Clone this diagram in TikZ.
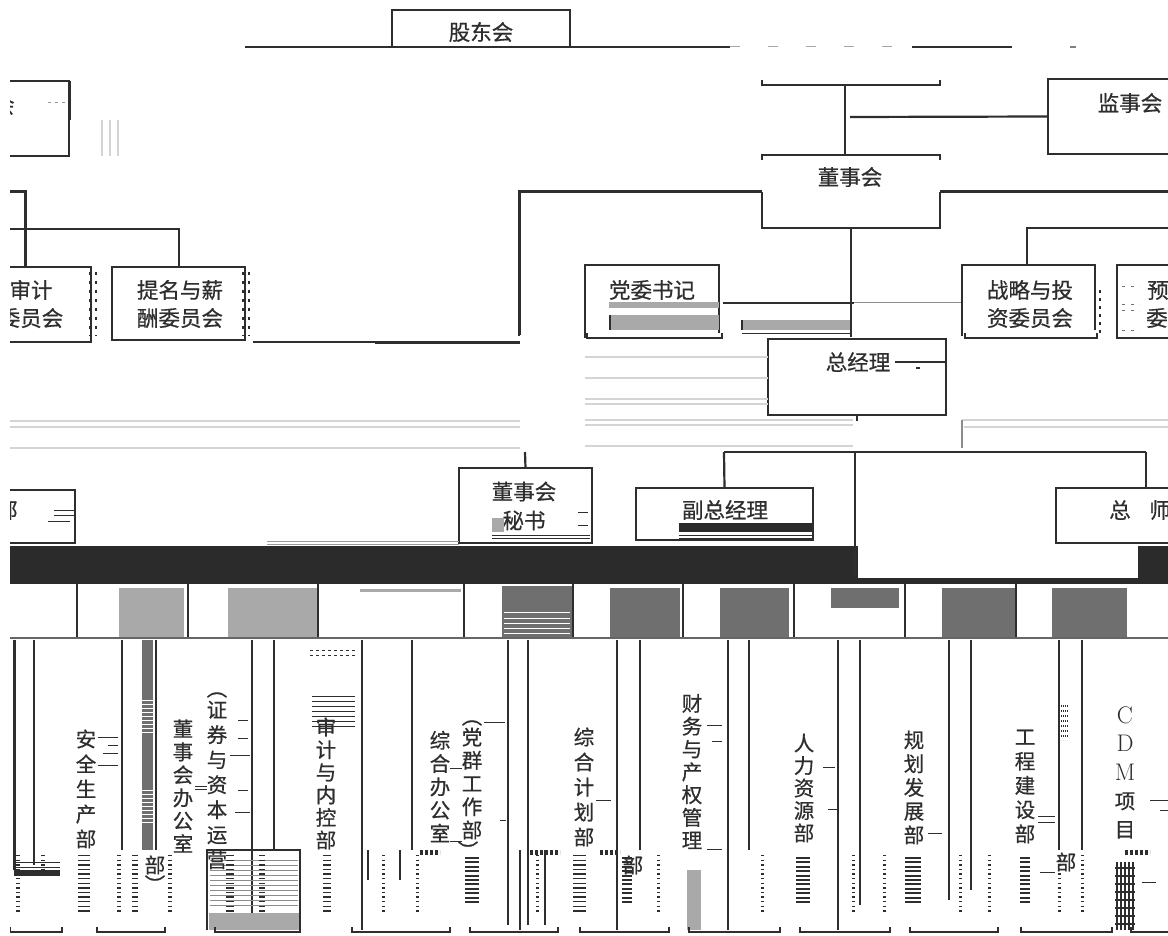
\documentclass[tikz,border=0pt]{standalone}
\usepackage{fontspec}
\newfontfamily\cjk[FakeBold=0.6]{Noto Sans CJK SC}
\definecolor{ink}{HTML}{2E2E2E}
\definecolor{lg}{HTML}{A9A9A9}
\definecolor{dg}{HTML}{6F6F6F}
\definecolor{barc}{HTML}{2B2B2B}
\definecolor{faint}{HTML}{D4D4D4}
\begin{document}
\begin{tikzpicture}[x=1pt,y=-1pt,
  ln/.style={draw=ink, line width=1.5pt},
  thk/.style={draw=ink, line width=3pt},
  med/.style={draw=ink, line width=2.2pt},
  lite/.style={draw=faint, line width=1.2pt},
  frame/.style={draw=none, inner sep=0pt, outer sep=0pt},
  txt/.style={font=\cjk\fontsize{21.5}{28}\selectfont, text=ink, inner sep=0pt, align=center},
  vt/.style={font=\cjk\fontsize{20.5}{#1}\selectfont, text=ink, inner sep=0pt, align=center},
  vt/.default=24,
  stackd/.style={draw=ink, line width=#1, dash pattern=on 1.4pt off 3.2pt},
  stackd/.default=5pt,
  brk/.style={draw=ink, line width=1.5pt},
]
\useasboundingbox (0,0) rectangle (1168,936);
\fill[white] (0,0) rectangle (1168,936);
\begin{scope}
\clip (10,0) rectangle (1168,936);

% ---------- black band and white cut-out ----------
\fill[barc] (10,546) rectangle (1168,584);
\fill[white] (858,543) rectangle (1138,578);

% ---------- shareholders ----------
\node[frame, minimum width=178pt, minimum height=37pt] (gd) at (481,28.5) {};
\draw[ln] (gd.south west) -- (gd.north west) -- (gd.north east) -- (gd.south east);
\node[txt] (gdt) at (481,32) {股东会};
\coordinate (tl0) at (245,47); \coordinate (tl1) at (730,47);
\coordinate (tl2) at (912,47); \coordinate (tl3) at (1012,47);
\draw[ln] (tl0) -- (tl1);
\draw[draw=black!35, line width=1pt, dash pattern=on 10pt off 28pt] (tl1) -- (tl2);
\draw[ln] (tl2) -- (tl3);
\draw[ln, draw=black!50] (1070,47) -- (1076,47);

% ---------- left clipped box ----------
\node[frame, minimum width=79pt, minimum height=75pt] (lb) at (29.5,118.5) {};
\draw[ln] (lb.north west) -- (lb.north east) -- (lb.south east) -- (lb.south west);
\draw[thk] (lb.north east) -- ++(0,39);
\node[txt] (lbt) at (4,105) {会};
\draw[draw=black!40, line width=1pt, dash pattern=on 3pt off 4pt] (48,103) -- (66,103);
\foreach \x in {102,110,118} \draw[lite] (\x,120) -- (\x,156);

% ---------- left committees ----------
\draw[thk] (10,192) -- (25,192) -- (25,267);
\draw[med] (10,229) -- (179,229) -- (179,267);
\node[frame, minimum width=101pt, minimum height=75pt] (sj) at (40.5,304.5) {};
\draw[ln] (sj.north west) -- (sj.north east) -- (sj.south east) -- (sj.south west);
\node[txt] (sjt) at (31,304) {审计\\委员会};
\node[frame, minimum width=133pt, minimum height=73pt] (tm) at (178.5,303.5) {};
\draw[ln] (tm.north west) rectangle (tm.south east);
\node[txt] (tmt) at (180,304) {提名与薪\\酬委员会};
\foreach \x in {90,96,243,249} \draw[draw=ink, line width=1.8pt, dash pattern=on 3pt off 6pt] (\x,272) -- (\x,336);
\draw[med] (253,342) -- (375,342);
\draw[thk] (375,342) -- (520,342);

% ---------- board ----------
\node[frame, minimum width=178pt, minimum height=73pt] (ds) at (851,191.5) {};
\draw[med] (762,160) -- (762,155) -- (940,155) -- (940,160);
\draw[med] (762,192) -- (ds.south west) -- (ds.south east) -- (940,192);
\node[txt] (dst) at (850,177) {董事会};
\draw[thk] (519,335) -- (519,192) -- (762,192);
\draw[draw=ink, line width=2pt, dash pattern=on 2pt off 5pt] (519,306) -- (519,336);
\draw[thk] (940,192) -- (1168,192);
\draw[med] (762,80) -- (762,85) -- (940,85) -- (940,80);
\coordinate (bt) at (845,85);
\draw[med] (bt) -- (845,155);
\node[frame, minimum width=142pt, minimum height=75pt] (js) at (1119,116.5) {};
\draw[ln] (js.north east) -- (js.north west) -- (js.south west) -- (js.south east);
\node[txt] (jst) at (1130,103) {监事会};
\draw[med] (850,117) -- (js.west);
\draw[med] (1027,265) -- (1027,228) -- (1168,228);

% ---------- party secretary ----------
\node[frame, minimum width=134pt, minimum height=73pt] (dw) at (652,301.5) {};
\draw[ln] (585,338) -- (dw.north west) -- (dw.north east) -- (719,333);
\draw[brk] (587,333) -- (587,338) -- (722,338) -- (722,333);
\node[txt] (dwt) at (652,290) {党委书记};
\fill[lg] (609,302) rectangle (719,308);
\fill[lg] (609,315) rectangle (719,330);
\draw[draw=ink, line width=2pt] (610,315) -- (610,330);
\draw[med] (723,303) -- (854,303);
\draw[draw=black!45, line width=1pt] (854,303) -- (962,303);
\fill[lg] (742,320) rectangle (852,330);
\draw[draw=ink, line width=2pt] (742,320) -- (742,330);
\draw[draw=ink, line width=1pt] (742,333) -- (852,333);

% ---------- strategy & budget committees ----------
\node[frame, minimum width=133pt, minimum height=73pt] (zl) at (1028.5,301.5) {};
\draw[ln] (962,336) -- (zl.north west) -- (zl.north east) -- (1095,330);
\draw[brk] (965,333) -- (965,338) -- (1097,338) -- (1097,333);
\node[txt] (zlt) at (1030,304) {战略与投\\资委员会};
\draw[draw=ink, line width=1.8pt, dash pattern=on 3pt off 5pt] (1100,290) -- (1100,335);
\node[frame, minimum width=73pt, minimum height=73pt] (ys) at (1153.5,301.5) {};
\draw[ln] (ys.north east) -- (ys.north west) -- (ys.south west) -- (ys.south east);
\node[txt, anchor=west] (yst1) at (1147,290) {预算};
\node[txt, anchor=west] (yst2) at (1146,318) {委员会};
\foreach \y in {287,305,310,330} \draw[draw=black!55, line width=1pt, dash pattern=on 3pt off 6pt] (1122,\y) -- (1140,\y);

% ---------- general manager ----------
\draw[med] (851,228) -- (851,337);
\node[frame, minimum width=178pt, minimum height=76pt] (zj) at (857,377) {};
\draw[med] (zj.north west) rectangle (zj.south east);
\node[txt] (zjt) at (858,362) {总经理};
\draw[ln] (895,362) -- (zj.east |- 0,362);
\fill[ink] (916,367) rectangle (920,369);
\foreach \y in {357,378,399,404} \draw[lite] (585,\y) -- (768,\y);
\foreach \y in {420,425,446} \draw[lite] (585,\y) -- (853,\y);
\foreach \y in {421,427,448} \draw[lite] (10,\y) -- (520,\y);
\draw[lite] (962,420) -- (1168,420);
\draw[lite] (964,427) -- (1168,427);
\draw[draw=black!45, line width=1.2pt] (962,420) -- (962,448);
\draw[med] (857,415) -- (857,421);

% ---------- second level ----------
\draw[med] (724,452) -- (1146,452);
\draw[med] (855,452) -- (855,578);
\node[frame, minimum width=177pt, minimum height=52pt] (fz) at (724.5,514) {};
\draw[med] (724,452) -- (fz.north);
\draw[ln] (fz.north west) rectangle (fz.south east);
\node[txt] (fzt) at (725,510) {副总经理};
\fill[barc] (679,523) rectangle (812,532);
\draw[draw=ink, line width=1pt] (679,535) -- (812,535);
\draw[draw=ink, line width=1pt] (679,538) -- (812,538);
\node[frame, minimum width=134pt, minimum height=55pt] (zs) at (1123,515.5) {};
\draw[med] (1146,452) -- (1146,488);
\draw[ln] (zs.north east) -- (zs.north west) -- (zs.south west) -- (zs.south east);
\node[txt] (zst1) at (1120,510) {总};
\node[txt] (zst2) at (1160,510) {师};
\node[frame, minimum width=133pt, minimum height=75pt] (ms) at (525.5,505.5) {};
\draw[med] (525,452) -- (ms.north);
\draw[ln] (ms.north west) rectangle (ms.south east);
\node[txt, font=\cjk\fontsize{21.5}{29}\selectfont] (mst) at (524,506) {董事会\\秘书};
\fill[lg] (492,518) rectangle (504,532);
\draw[draw=ink, line width=1pt] (492,535) -- (590,535);
\draw[draw=ink, line width=1pt] (492,538) -- (590,538);
\draw[draw=ink, line width=1pt] (578,512) -- (588,512) (578,525) -- (588,525);
\node[frame, minimum width=85pt, minimum height=53pt] (lp) at (32.5,516.5) {};
\draw[ln] (lp.north west) -- (lp.north east) -- (lp.south east) -- (lp.south west);
\node[txt] (lpt) at (7,510) {部};
\draw[draw=ink, line width=1pt] (54,510) -- (75,510) (54,515) -- (75,515) (48,521) -- (70,521);
\draw[draw=black!40, line width=1pt] (267,541) -- (459,541) (267,544) -- (459,544);

% ---------- strip under the band ----------
\fill[lg] (119,588) rectangle (184,638);
\fill[lg] (228,588) rectangle (317,638);
\draw[draw=lg, line width=3pt] (360,590) -- (461,590);
\fill[dg] (502,586) rectangle (572,637);
\foreach \y in {612,618,623,628,633} \draw[white, line width=1pt] (504,\y) -- (570,\y);
\fill[dg] (610,588) rectangle (680,638);
\fill[dg] (720,588) rectangle (789,638);
\fill[dg] (831,588) rectangle (899,608);
\fill[dg] (942,588) rectangle (1015,638);
\fill[dg] (1052,588) rectangle (1127,638);
\foreach \x in {77,188,318,464,573,683,794,905,1016} \draw[ln] (\x,584) -- (\x,638);
\draw[ln, draw=black!60] (10,638) -- (1168,638);

% ---------- department columns ----------
\draw[thk] (14,640) -- (14,870);
\draw[ln] (34,640) -- (34,865);
\draw[draw=ink, line width=0.8pt] (14,862) -- (60,862) (14,867) -- (60,867);
\fill[ink] (14,870) rectangle (60,876);
\draw[ln] (122,640) -- (122,850);
\fill[dg] (142,640) rectangle (153,850);
\foreach \y in {700,704,...,732} \draw[white, line width=0.9pt] (142,\y) -- (153,\y);
\foreach \y in {790,794,...,822} \draw[white, line width=0.9pt] (142,\y) -- (153,\y);
\draw[ln] (156,640) -- (156,850);
\foreach \x/\b in {252/930,274/850,362/930,412/850,508/925,528/925,617/930,640/850,728/930,749/850,838/930,860/905,949/900,971/890,1059/850,1082/850}
  \draw[ln] (\x,640) -- (\x,\b);

% bottom box with stripes
\draw[ln] (207,930) -- (207,850) -- (300,850) -- (300,930);
\foreach \y in {860,865,...,905} \draw[draw=black!45, line width=0.8pt] (210,\y) -- (298,\y);
\fill[lg] (209,913) rectangle (299,930);
\fill[lg] (687,870) rectangle (701,930);

% vertical department texts
\node[vt=25] (d1) at (86,789) {安\\全\\生\\产\\部};
\node[vt=23] (d2) at (183,786) {董\\事\\会\\办\\公\\室};
\node[vt] (d3a) at (217,695) {︵};
\node[vt=25] (d3) at (217,785) {证\\券\\与\\资\\本\\运\\营};
\node[vt=17] (d3b) at (155,874) {部\\︶};
\node[vt=22.6] (d4) at (326,783.5) {审\\计\\与\\内\\控\\部};
\node[vt=23.25] (d5) at (440,786.5) {综\\合\\办\\公\\室};
\node[vt] (d6a) at (472,723) {︵};
\node[vt=23.25] (d6) at (472,783.5) {党\\群\\工\\作\\部};
\node[vt] (d6b) at (468,850) {︶};
\node[vt=25] (d7) at (584,787) {综\\合\\计\\划\\部};
\node[vt] (d8) at (633,865) {部};
\node[vt=22.8] (d9) at (692,771.5) {财\\务\\与\\产\\权\\管\\理};
\node[vt=22.5] (d10) at (804,788) {人\\力\\资\\源\\部};
\node[vt=23.75] (d11) at (914,787.5) {规\\划\\发\\展\\部};
\node[vt=24.25] (d12) at (1025,786.5) {工\\程\\建\\设\\部};
\node[vt] (d13) at (1066,862) {部};
\node[vt=28.5] (d14) at (1125,772.5) {\normalfont\fontsize{24}{28.5}\selectfont C\\\normalfont\fontsize{24}{28.5}\selectfont D\\\normalfont\fontsize{24}{28.5}\selectfont M\\项\\目};

% small dash noise beside texts
\draw[draw=ink, line width=1pt]
  (98,737) -- (118,737) (108,745) -- (118,745) (103,753) -- (118,753) (98,765) -- (118,765)
  (238,720) -- (248,720) (238,738) -- (248,738) (230,755) -- (250,755) (238,790) -- (248,790) (235,812) -- (250,812)
  (195,786) -- (207,786) (195,789) -- (207,789)
  (484,722) -- (505,722) (450,768) -- (462,768) (450,841) -- (462,841) (500,820) -- (506,820)
  (596,800) -- (611,800) (707,725) -- (722,725) (712,741) -- (722,741) (707,849) -- (722,849)
  (823,767) -- (835,767) (828,809) -- (838,809)
  (928,833) -- (942,833) (1038,816) -- (1055,816) (1038,822) -- (1055,822) (1040,872) -- (1055,872)
  (1150,800) -- (1168,800) (1160,810) -- (1168,810) (1142,882) -- (1156,882);
\foreach \x in {1061,1063,1065,1067} \draw[draw=ink, line width=1pt, dash pattern=on 2pt off 3pt] (\x,705) -- (\x,740);
\draw[draw=ink, line width=1pt, dash pattern=on 3pt off 3pt] (310,650) -- (355,650) (310,655) -- (355,655);
\foreach \y in {696,701,...,726} \draw[draw=ink, line width=0.8pt] (312,\y) -- (355,\y);

% bottom noise stacks
\foreach \x/\w in {18/4,84/12,119/4,135/6,170/4,230/8,262/6,327/8,383/3,417/3,537/3,577/8,583/6,658/3,762/3,853/3,884/3,960/3,989/3,1059/3,1082/3}
  \draw[stackd=\w pt] (\x,855) -- (\x,912);
\foreach \x/\w in {472/14,627/10,803/14,913/16,1025/10}
  \draw[draw=ink, line width=\w pt, dash pattern=on 2pt off 2.4pt] (\x,857) -- (\x,905);
\draw[stackd=4pt] (43,855) -- (43,870);
\foreach \x in {1117,1121,1125,1129,1133} \draw[draw=ink, line width=1.2pt] (\x,862) -- (\x,930);
\foreach \y in {868,876,...,924} \draw[draw=ink, line width=1.5pt] (1115,\y) -- (1135,\y);
\draw[draw=ink, line width=5pt, dash pattern=on 3pt off 2pt] (420,852) -- (440,852) (530,852) -- (560,852) (600,852) -- (620,852) (1125,852) -- (1150,852);
\draw[draw=ink, line width=1.5pt] (368,850) -- (368,880) (400,850) -- (400,880) (520,850) -- (520,930) (545,850) -- (545,925);

% bottom brackets
\foreach \a/\b in {10/62,97/165,215/300,352/450,470/558,580/669,689/780,800/890,910/998,1021/1112,1131/1175}
  \draw[brk] (\a,927) -- (\a,932) -- (\b,932) -- (\b,927);
\end{scope}
\end{tikzpicture}
\end{document}
